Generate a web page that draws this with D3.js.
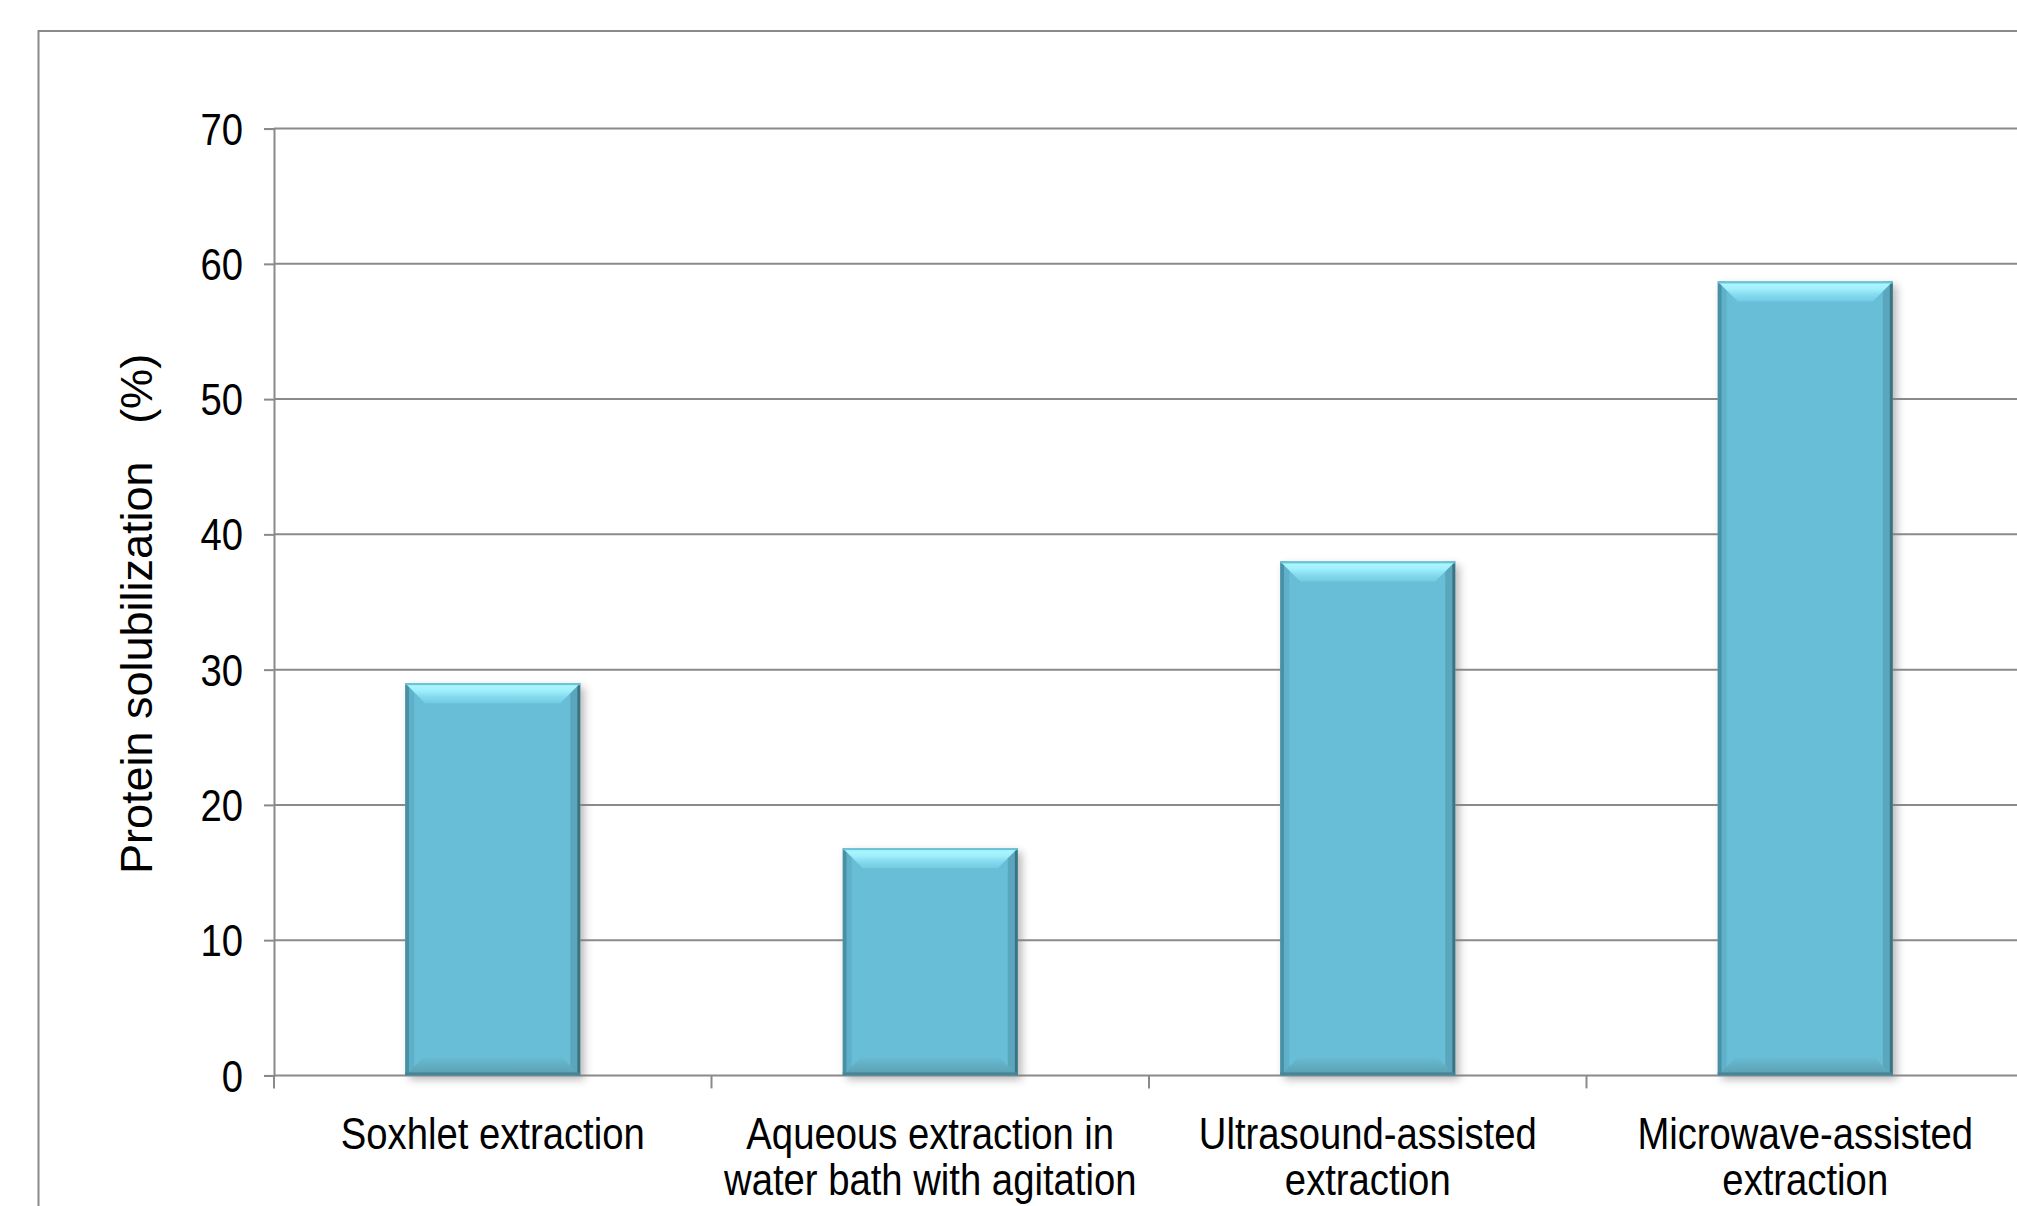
<!DOCTYPE html>
<html>
<head>
<meta charset="utf-8">
<script src="https://cdn.jsdelivr.net/npm/d3@7"></script>
<style>
  html, body { margin: 0; padding: 0; background: #ffffff; }
  svg { display: block; }
  text { font-family: "Liberation Sans", Arial, sans-serif; fill: #000; }
</style>
</head>
<body>
<svg id="chart" width="2017" height="1206"></svg>
<script>
// Extraction methods (label lines as drawn under each bar)
const categories = ["Soxhlet", "Aqueous", "Ultrasound", "Microwave"];
const categoryLines = [
  ["Soxhlet extraction"],
  ["Aqueous extraction in", "water bath with agitation"],
  ["Ultrasound-assisted", "extraction"],
  ["Microwave-assisted", "extraction"]
];
// Protein solubilization (%)
const values = [29.0, 16.8, 38.0, 58.7];
const yTicks = [0, 10, 20, 30, 40, 50, 60, 70];
const yTitle = "Protein solubilization   (%)";

const svg = d3.select("#chart");

const plot = { left: 274, right: 2024, top: 128.6, bottom: 1075.4 };
const gridColor = "#8a8a8a";
const narrow = 0.85;   // horizontal condensing of tick/category text
const fontSize = 45;

const x = d3.scaleBand()
  .domain(categories)
  .range([plot.left, plot.right])
  .paddingInner(0.6)
  .paddingOuter(0.3);
const step = x.step();

const y = d3.scaleLinear().domain([0, 70]).range([plot.bottom, plot.top]);

// outer chart-area frame
svg.append("rect")
  .attr("x", 38.5).attr("y", 31)
  .attr("width", 2100).attr("height", 1400)
  .attr("fill", "#fff")
  .attr("stroke", gridColor).attr("stroke-width", 2);

const defs = svg.append("defs");
const topGrad = defs.append("linearGradient").attr("id", "topBevel")
  .attr("x1", 0).attr("y1", 0).attr("x2", 0).attr("y2", 1);
[["0%", "#6cc3d8"], ["8%", "#aef8ff"], ["40%", "#9eeefb"], ["65%", "#86dcef"], ["100%", "#72cbe2"]]
  .forEach(([o, c]) => topGrad.append("stop").attr("offset", o).attr("stop-color", c));
const botGrad = defs.append("linearGradient").attr("id", "botBevel")
  .attr("x1", 0).attr("y1", 0).attr("x2", 0).attr("y2", 1);
[["0%", "#68bbd2"], ["100%", "#5a9eb1"]]
  .forEach(([o, c]) => botGrad.append("stop").attr("offset", o).attr("stop-color", c));
const shadow = defs.append("filter").attr("id", "shadow")
  .attr("x", "-20%").attr("y", "-20%").attr("width", "140%").attr("height", "140%");
shadow.append("feGaussianBlur").attr("stdDeviation", 4);

// y axis line and ticks
const yAxis = d3.axisLeft(y).tickValues(yTicks).tickSize(10).tickFormat("");
svg.append("g").attr("transform", `translate(${plot.left},0)`).call(yAxis)
  .call(g => g.select(".domain").attr("stroke", gridColor).attr("stroke-width", 2))
  .call(g => g.selectAll(".tick line").attr("stroke", gridColor).attr("stroke-width", 2));

// horizontal gridlines
svg.append("g").selectAll("line").data(yTicks).join("line")
  .attr("x1", plot.left).attr("x2", plot.right)
  .attr("y1", d => y(d)).attr("y2", d => y(d))
  .attr("stroke", gridColor).attr("stroke-width", 2);

// y tick labels
svg.append("g").selectAll("text").data(yTicks).join("text")
  .attr("transform", d => `translate(243,${y(d) + fontSize * 0.358}) scale(${narrow},1)`)
  .attr("text-anchor", "end")
  .attr("font-size", fontSize)
  .text(d => d);

// x ticks at category boundaries
const boundaries = d3.range(categories.length + 1).map(i => plot.left + i * step);
svg.append("g").selectAll("line").data(boundaries).join("line")
  .attr("x1", d => d).attr("x2", d => d)
  .attr("y1", plot.bottom).attr("y2", plot.bottom + 13)
  .attr("stroke", gridColor).attr("stroke-width", 2);

// bevelled bars
const bw = x.bandwidth();
const bars = svg.append("g").selectAll("g").data(categories.map((c, i) => ({ c, v: values[i] })))
  .join("g")
  .attr("transform", d => `translate(${x(d.c)},${y(d.v)})`);

bars.each(function (d) {
  const g = d3.select(this);
  const h = y(0) - y(d.v);
  const dTop = Math.min(20, h / 2), dBot = Math.min(18, h / 2);
  g.append("rect").attr("x", 4).attr("y", 4).attr("width", bw).attr("height", h)
    .attr("fill", "#7d7d7d").attr("opacity", 0.55).attr("filter", "url(#shadow)");
  g.append("rect").attr("width", bw).attr("height", h).attr("fill", "#68bed7");
  // side shading
  g.append("rect").attr("x", 0).attr("width", 4).attr("height", h).attr("fill", "#4a90a4");
  g.append("rect").attr("x", 4).attr("width", 5).attr("height", h).attr("fill", "#5eb1c8");
  g.append("rect").attr("x", bw - 10).attr("width", 7).attr("height", h).attr("fill", "#5aa6bc");
  g.append("rect").attr("x", bw - 3).attr("width", 3).attr("height", h).attr("fill", "#3c7383");
  // bottom bevel
  g.append("polygon")
    .attr("points", [[0, h], [bw, h], [bw - dBot, h - dBot], [dBot, h - dBot]].join(" "))
    .attr("fill", "url(#botBevel)");
  g.append("rect").attr("x", 0).attr("y", h - 3).attr("width", bw).attr("height", 3).attr("fill", "#4a8394");
  // top bevel
  g.append("polygon")
    .attr("points", [[0, 0], [bw, 0], [bw - dTop, dTop], [dTop, dTop]].join(" "))
    .attr("fill", "url(#topBevel)");
  g.append("rect").attr("width", bw).attr("height", 2).attr("fill", "#6cc3d8");
});

// category labels
const labels = svg.append("g").selectAll("g").data(categories).join("g")
  .attr("transform", d => `translate(${x(d) + bw / 2},0)`);
labels.each(function (d, i) {
  d3.select(this).selectAll("text").data(categoryLines[i]).join("text")
    .attr("transform", (t, j) => `translate(0,${1149 + j * 46}) scale(${narrow},1)`)
    .attr("text-anchor", "middle")
    .attr("font-size", fontSize)
    .text(t => t);
});

// y axis title
svg.append("text")
  .attr("transform", "translate(152,614) rotate(-90)")
  .attr("text-anchor", "middle")
  .attr("font-size", 45)
  .style("white-space", "pre")
  .text(yTitle);
</script>
</body>
</html>
